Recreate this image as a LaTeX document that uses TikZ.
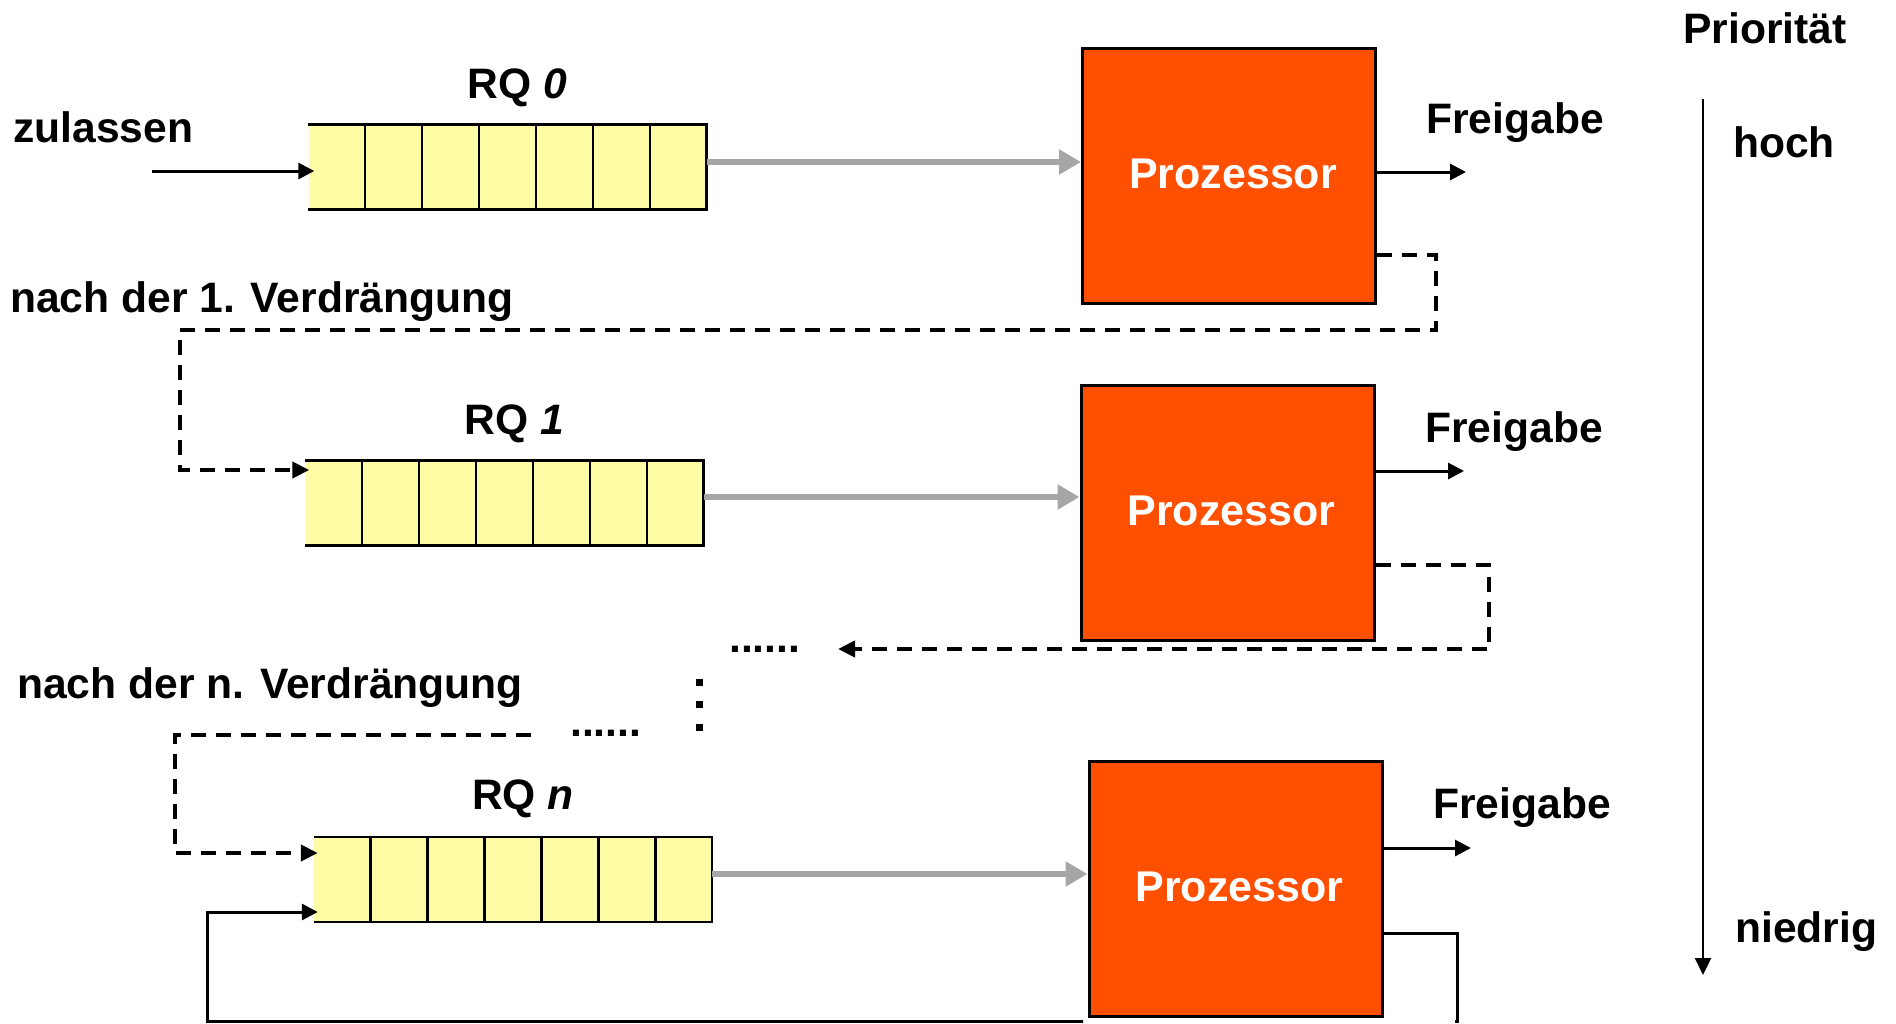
\documentclass[tikz,border=0pt]{standalone}
\usepackage{fontspec}
\setmainfont{Liberation Sans}
\usetikzlibrary{arrows.meta,calc}
\definecolor{qfill}{HTML}{FFFCA6}
\definecolor{porange}{HTML}{FF4F00}
\definecolor{garrow}{HTML}{A6A6A6}
\newcommand\qcells[1]{%
  \draw[qline] (#1.north west) -- (#1.north east) -- (#1.south east) -- (#1.south west);
  \foreach \i in {1,...,6}{\draw[qline] ($(#1.north west)!\i/7!(#1.north east)$) -- ($(#1.south west)!\i/7!(#1.south east)$);}
}
\newcommand\proctext{\raisebox{4pt}{\hspace*{8pt}Prozessor}}
\begin{document}
\begin{tikzpicture}[x=1pt,y=-1pt,
  lbl/.style={inner sep=0pt, anchor=base west, font=\fontsize{42.6}{50}\selectfont\bfseries},
  rqlbl/.style={inner sep=0pt, anchor=base, font=\fontsize{42.6}{50}\selectfont\bfseries},
  queuebox/.style={fill=qfill, draw=none, minimum width=398pt, minimum height=85pt, inner sep=0pt},
  qline/.style={draw=black, line width=2.5pt},
  procbox/.style={fill=porange, draw=black, line width=3pt, minimum width=293pt, minimum height=255pt, inner sep=0pt, text=white, font=\fontsize{43}{50}\selectfont\bfseries},
  grayarr/.style={draw=garrow, line width=6pt, -{Triangle[length=22pt,width=24pt]}},
  blackarr/.style={draw=black, line width=3pt, -{Triangle[length=16pt,width=16pt]}},
  dsh/.style={draw=black, line width=4pt, dash pattern=on 15pt off 10pt},
  dsharr/.style={dsh, -{Triangle[length=17pt,width=16pt]}},
  solidline/.style={draw=black, line width=3pt},
  prioarr/.style={draw=black, line width=2.2pt, -{Triangle[length=17pt,width=16pt]}}
]
\useasboundingbox (0,0) rectangle (1896,1023);

% queues
\node[queuebox] (q0) at (507.5,167) {};
\node[queuebox] (q1) at (504.5,503) {};
\node[queuebox] (qn) at (513,879.5) {};
\qcells{q0}
\qcells{q1}
\qcells{qn}

% processors
\node[procbox] (p0) at (1229,176) {\proctext};
\node[procbox] (p1) at (1227.5,512.5) {\proctext};
\node[procbox] (p2) at (1235.5,888.5) {\proctext};

% gray arrows
\draw[grayarr] ([yshift=5pt]q0.east) -- ([yshift=5pt]q0.east -| p0.west);
\draw[grayarr] ([yshift=6pt]q1.east) -- ([yshift=6pt]q1.east -| p1.west);
\draw[grayarr] ([yshift=5.5pt]qn.east) -- ([yshift=5.5pt]qn.east -| p2.west);

% labels
\node[rqlbl] (rq0) at (517,98) {RQ \textit{0}};
\node[rqlbl] (rq1) at (514,434) {RQ \textit{1}};
\node[rqlbl] (rqn) at (523,809) {RQ \textit{n}};
\node[lbl] (zul) at (13,142) {zulassen};
\node[lbl] (nach1) at (10,312) {nach der 1. Verdrängung};
\node[lbl] (nachn) at (17,698) {nach der n. Verdrängung};
\node[lbl] (prio) at (1683,43) {Priorität};
\node[lbl] (hoch) at (1733,157) {hoch};
\node[lbl] (niedrig) at (1735,942) {niedrig};
\node[lbl] (f0) at (1426,133) {Freigabe};
\node[lbl] (f1) at (1425,442) {Freigabe};
\node[lbl] (f2) at (1433,818) {Freigabe};
\node[lbl] (dots1) at (729,652) {......};
\node[lbl] (dots2) at (570,736) {......};

% admission arrow
\coordinate (zstart) at (152,171);
\draw[blackarr] (zstart) -- ([xshift=6pt]zstart -| q0.west);

% release arrows
\coordinate (r0) at (1466,172);
\coordinate (r1) at (1464,471);
\coordinate (r2) at (1471,848);
\draw[blackarr] (r0 -| p0.east) -- (r0);
\draw[blackarr] (r1 -| p1.east) -- (r1);
\draw[blackarr] (r2 -| p2.east) -- (r2);

% dashed feedback after 1st preemption
\coordinate (d1a) at (1436,255);
\coordinate (d1b) at (180,470);
\draw[dsharr] (d1a -| p0.east) -- (d1a) -- (1436,330) -| (d1b) -- ([xshift=4pt]d1b -| q1.west);

% dashed from second processor
\coordinate (d2a) at (1489,565);
\coordinate (d2end) at (838,649);
\draw[dsharr] (d2a -| p1.east) -- (d2a) |- (d2end);

% vertical dots
\coordinate (vd1) at (699,678.5);
\coordinate (vd2) at (699,731);
\draw[line width=7pt, dash pattern=on 7pt off 15.5pt] (vd1) -- (vd2);

% dashed into RQ n
\coordinate (d3start) at (531,735);
\coordinate (d3b) at (175,853);
\draw[dsharr] (d3start) -| (d3b) -- ([xshift=4pt]d3b -| qn.west);

% solid feedback for RQ n (bottom part runs along the picture's lower edge)
\coordinate (s1) at (1457,933);
\coordinate (s2) at (207,912);
\begin{scope}
  \clip (0,0) -- (1896,0) -- (1896,1023) -- (1455,1023) -- (1455,1017) -- (1083,1017) -- (1083,1023) -- (0,1023) -- cycle;
  \draw[solidline, -{Triangle[length=16pt,width=16pt]}] (s1 -| p2.east) -- (s1) -- (1457,1021.5) -- (207,1021.5) -- (s2) -- ([xshift=4pt]s2 -| qn.west);
\end{scope}

% priority arrow
\coordinate (pr0) at (1703,99);
\coordinate (pr1) at (1703,975);
\draw[prioarr] (pr0) -- (pr1);
\end{tikzpicture}
\end{document}
